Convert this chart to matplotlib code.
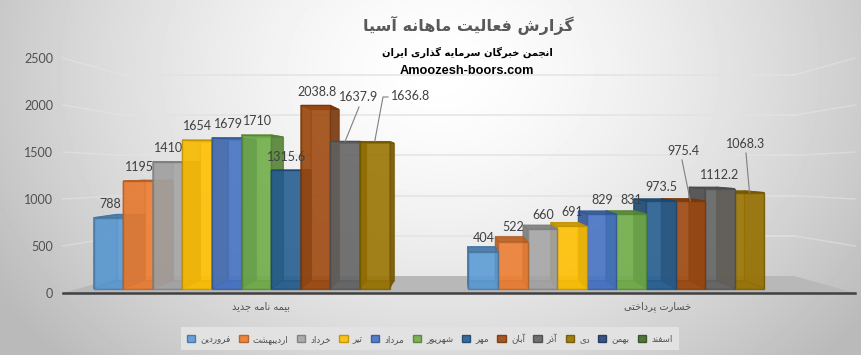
import numpy as np
import matplotlib
matplotlib.use('Agg')
import matplotlib.pyplot as plt
from matplotlib.patches import Polygon, Patch
from matplotlib.colors import to_rgb

plt.rcParams['font.family'] = ['Lato', 'DejaVu Sans']

title = 'گزارش فعالیت ماهانه آسیا'
subtitle = 'انجمن خبرگان سرمایه گذاری ایران'
site = 'Amoozesh-boors.com'
categories = ['بیمه نامه جدید', 'خسارت پرداختی']
months = ['فروردین', 'اردیبهشت', 'خرداد', 'تیر', 'مرداد', 'شهریور', 'مهر', 'آبان', 'آذر', 'دی', 'بهمن', 'اسفند']
colors = ['#5B9BD5', '#ED7D31', '#A5A5A5', '#FFC000', '#4472C4', '#70AD47',
          '#255E91', '#9E480E', '#636363', '#997300', '#264478', '#43682B']
new_policy = [788, 1195, 1410, 1654, 1679, 1710, 1315.6, 2038.8, 1637.9, 1636.8]
claims = [404, 522, 660, 691, 829, 831, 973.5, 975.4, 1112.2, 1068.3]
yticks = [0, 500, 1000, 1500, 2000, 2500]

# label centres in pixels, same order as the values
new_policy_labels = [(110, 204), (139, 167), (169, 148), (198, 126), (228, 124),
                     (257, 121), (287, 157), (317, 92), (359, 97), (411, 96)]
claims_labels = [(484, 238), (513, 227), (543, 215), (572, 212), (602, 200),
                 (631, 200), (661, 187), (683, 151), (720, 175), (746, 144)]
# leader lines, bar index -> points in pixels going away from the bar
new_policy_leaders = {8: [(359, 107)], 9: [(383, 97), (388, 97)]}
claims_leaders = {7: [(682, 160)], 9: [(746, 153)]}

W, H = 861, 355
bar_w = 29.6
group_left = [93.5, 468.3]
base_px = 288.5
px_per_unit = 0.0898
vp_px = (458, 166)
depth = 0.065

# matplotlib does not join arabic letters, so pick the forms by hand
FORMS = {
    'ا': (0xFE8D, 0xFE8E), 'آ': (0xFE81, 0xFE82), 'د': (0xFEA9, 0xFEAA), 'ذ': (0xFEAB, 0xFEAC),
    'ر': (0xFEAD, 0xFEAE), 'ز': (0xFEAF, 0xFEB0), 'و': (0xFEED, 0xFEEE),
    'ب': (0xFE8F, 0xFE90, 0xFE91, 0xFE92), 'پ': (0xFB56, 0xFB57, 0xFB58, 0xFB59),
    'ت': (0xFE95, 0xFE96, 0xFE97, 0xFE98), 'ج': (0xFE9D, 0xFE9E, 0xFE9F, 0xFEA0),
    'خ': (0xFEA5, 0xFEA6, 0xFEA7, 0xFEA8), 'س': (0xFEB1, 0xFEB2, 0xFEB3, 0xFEB4),
    'ش': (0xFEB5, 0xFEB6, 0xFEB7, 0xFEB8), 'ع': (0xFEC9, 0xFECA, 0xFECB, 0xFECC),
    'ف': (0xFED1, 0xFED2, 0xFED3, 0xFED4), 'گ': (0xFB92, 0xFB93, 0xFB94, 0xFB95),
    'ل': (0xFEDD, 0xFEDE, 0xFEDF, 0xFEE0), 'م': (0xFEE1, 0xFEE2, 0xFEE3, 0xFEE4),
    'ن': (0xFEE5, 0xFEE6, 0xFEE7, 0xFEE8), 'ه': (0xFEE9, 0xFEEA, 0xFEEB, 0xFEEC),
    'ی': (0xFBFC, 0xFBFD, 0xFBFE, 0xFBFF),
}


def fa(text):
    out = []
    for i, c in enumerate(text):
        if c not in FORMS:
            out.append(c)
            continue
        prev = text[i - 1] if i > 0 else ' '
        nxt = text[i + 1] if i < len(text) - 1 else ' '
        after = prev in FORMS and len(FORMS[prev]) == 4
        before = nxt in FORMS and len(FORMS[c]) == 4
        f = FORMS[c]
        if after and before:
            out.append(chr(f[3]))
        elif before:
            out.append(chr(f[2]))
        elif after:
            out.append(chr(f[1]))
        else:
            out.append(chr(f[0]))
    return ''.join(out[::-1])


def shade(col, k):
    return tuple(v * k for v in to_rgb(col))


fig = plt.figure(figsize=(W / 100, H / 100), dpi=100)

# background, floor and walls, in pixels
bg = fig.add_axes([0, 0, 1, 1])
yy, xx = np.mgrid[0:H, 0:W]
dist = np.sqrt(((xx - 440) / 520.0) ** 2 + ((yy - 70) / 420.0) ** 2)
bg.imshow(1 - 0.27 * np.clip(dist, 0, 1) ** 1.5, cmap='gray', vmin=0, vmax=1,
          extent=(0, W, H, 0), aspect='auto', interpolation='bilinear')
bg.set_xlim(0, W)
bg.set_ylim(H, 0)
bg.axis('off')
bg.add_patch(Polygon([(63, 293), (123, 276), (794, 276), (855, 293)], closed=True,
                     fc='#b8b8b8', ec='none'))
for v in yticks[1:]:
    front_y = 293 - v * 0.094
    back_y = 276 - v * 0.0804
    bg.plot([63, 123], [front_y, back_y], color='#e6e6e6', lw=1.0, alpha=0.55)
    bg.plot([794, 855], [back_y, front_y], color='#e6e6e6', lw=1.0, alpha=0.55)
    bg.plot([123, 794], [back_y, back_y], color='#e2e2e2', lw=1.2, alpha=0.85)

# bars, x in pixels and y in values
ax = fig.add_axes([0, 0, 1, 1], facecolor='none')
ax.set_xlim(0, W)
ax.set_ylim(-(H - base_px) / px_per_unit, base_px / px_per_unit)
ax.axis('off')
vp = (vp_px[0], (base_px - vp_px[1]) / px_per_unit)


def back(x, y):
    return (x + (vp[0] - x) * depth, y + (vp[1] - y) * depth)


def to_data(p):
    return (p[0], (base_px - p[1]) / px_per_unit)


def draw_group(left, values, order, side):
    for n, i in enumerate(order):
        x0 = left + i * bar_w
        x1 = x0 + bar_w
        v = values[i]
        col = colors[i]
        edge = shade(col, 0.75)
        z = 3 + n * 0.1
        near = x1 if side == 'right' else x0
        far = x0 if side == 'right' else x1
        # inside of the box, seen through the front
        ax.add_patch(Polygon([back(x0, 0), back(x1, 0), back(x1, v), back(x0, v)], closed=True,
                             fc=shade(col, 1.0), ec=edge, lw=0.8, alpha=0.5, zorder=z))
        ax.add_patch(Polygon([(far, 0), back(far, 0), back(far, v), (far, v)], closed=True,
                             fc=shade(col, 0.8), ec=edge, lw=0.8, alpha=0.6, zorder=z))
        ax.add_patch(Polygon([back(x0, 0), back(x1, 0), (x1, 0), (x0, 0)], closed=True,
                             fc=shade(col, 0.85), ec=edge, lw=0.6, alpha=0.7, zorder=z))
        ax.add_patch(Polygon([(near, 0), back(near, 0), back(near, v), (near, v)], closed=True,
                             fc=shade(col, 0.72), ec=edge, lw=0.8, alpha=0.8, zorder=z))
        ax.add_patch(Polygon([(x0, v), (x1, v), back(x1, v), back(x0, v)], closed=True,
                             fc=shade(col, 0.78), ec=edge, lw=0.8, alpha=0.9, zorder=z))
        ax.bar(x0, v, bar_w, align='edge', color=col, edgecolor=edge, lw=1.0,
               alpha=0.78, zorder=z + 0.01)


draw_group(group_left[0], new_policy, list(range(len(new_policy))), 'right')
draw_group(group_left[1], claims, list(range(len(claims) - 1, -1, -1)), 'left')


def draw_labels(left, values, spots, leaders):
    for i, v in enumerate(values):
        ax.annotate(str(v), xy=(left + (i + 0.5) * bar_w, v), xytext=spots[i],
                    textcoords=bg.transData, ha='center', va='center', fontsize=9,
                    color='#404040', zorder=10)
        if i in leaders:
            pts = [(left + (i + 0.5) * bar_w, v)] + [to_data(p) for p in leaders[i]]
            ax.plot([p[0] for p in pts], [p[1] for p in pts], color='#7f7f7f', lw=0.8, zorder=10)


draw_labels(group_left[0], new_policy, new_policy_labels, new_policy_leaders)
draw_labels(group_left[1], claims, claims_labels, claims_leaders)

# axis with the tick labels
axis = fig.add_axes([63 / W, 1 - 293 / H, (855 - 63) / W, (293 - 58) / H], facecolor='none')
axis.set_ylim(0, 2500)
axis.set_xlim(0, 2)
axis.set_yticks(yticks)
axis.set_xticks([0.5, 1.5])
axis.set_xticklabels([fa(c) for c in categories], fontsize=7, color='#505050',
                     family='DejaVu Sans')
axis.tick_params(axis='y', length=0, pad=7, labelsize=9, labelcolor='#505050')
axis.tick_params(axis='x', length=0, pad=6)
for s in ['top', 'left', 'right']:
    axis.spines[s].set_visible(False)
axis.spines['bottom'].set_color('#404040')
axis.spines['bottom'].set_linewidth(1.8)

# titles
bg.text(468, 25, fa(title), ha='center', va='center', fontsize=11.5, color='#595959',
        fontweight='bold', family='DejaVu Sans')
bg.text(467, 52, fa(subtitle), ha='center', va='center', fontsize=7.2, color='black',
        fontweight='bold', family='DejaVu Sans')
bg.text(467, 71, site, ha='center', va='center', fontsize=9.2, color='black',
        fontweight='bold', family='Liberation Sans', zorder=10)

# legend
handles = [Patch(facecolor=c, edgecolor=shade(c, 0.75), lw=1.0, alpha=0.9, label=fa(m))
           for c, m in zip(colors, months)]
leg = fig.legend(handles=handles, ncol=12, loc='center', bbox_to_anchor=(430 / W, 1 - 338.5 / H),
                 fontsize=6.3, frameon=True, fancybox=False, facecolor='#e2e2e2',
                 edgecolor='none', framealpha=1, handlelength=0.95, handleheight=0.95,
                 handletextpad=0.6, columnspacing=0.95, labelcolor='#505050',
                 borderpad=0.75, borderaxespad=0)

fig.savefig('out.png', dpi=100)
